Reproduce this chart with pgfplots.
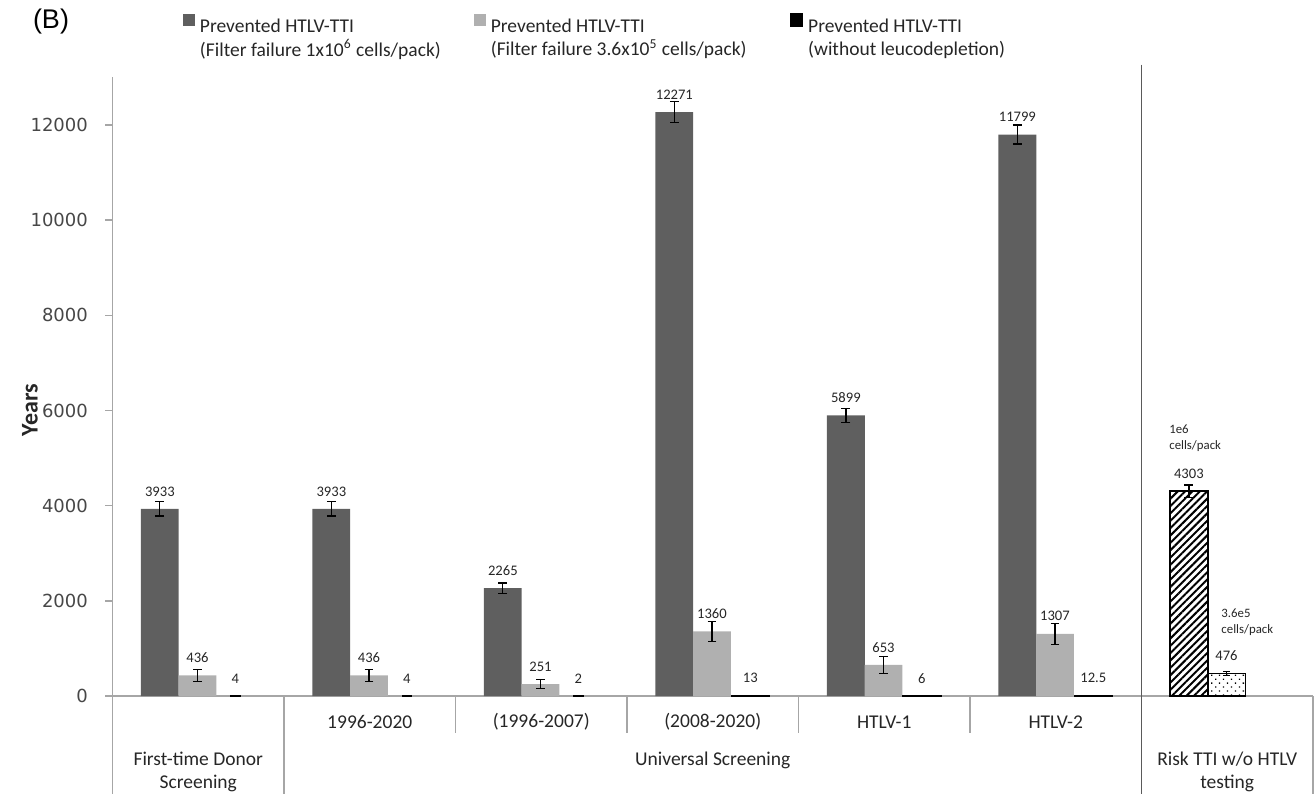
\documentclass[border=0pt]{standalone}
\usepackage{pgfplots}
\usepackage{pgfplotstable}
\pgfplotsset{compat=1.18}
\usepackage{fontspec}
\setmainfont{Carlito}
\newfontfamily\arialfont{Liberation Sans}
\newfontfamily\tickfont{DejaVu Sans}
\usetikzlibrary{patterns,patterns.meta}
\definecolor{darkbar}{HTML}{5F5F5F}
\definecolor{lightbar}{HTML}{B0B0B0}
\definecolor{axgray}{HTML}{A6A6A6}
\definecolor{sepgray}{HTML}{5A5A5A}
\definecolor{txt}{HTML}{262626}

\pgfplotstableread{
x y err
0 3933 150
1 3933 150
2 2265 110
3 12271 220
4 5899 150
5 11799 200
}\darkdata
\pgfplotstableread{
x y err
0 436 125
1 436 125
2 251 95
3 1360 210
4 653 180
5 1307 220
}\lightdata
\pgfplotstableread{
x y
0 4
1 4
2 2
}\blackA
\pgfplotstableread{
x y
3 13
4 6
5 12.5
}\blackB
\pgfplotstableread{
x y err
6 4303 130
}\hatchdata
\pgfplotstableread{
x y err
6 476 45
}\dotdata

\begin{document}
\begin{tikzpicture}
\path[use as bounding box] (-56.25pt,-49pt) rectangle (600.75pt,348pt);
\begin{axis}[
  at={(0pt,0pt)}, anchor=south west,
  scale only axis, width=600.25pt, height=309.3pt,
  xmin=-0.5, xmax=6.5, ymin=0, ymax=13000,
  enlargelimits=false, clip=false,
  axis lines=left,
  axis line style={draw=axgray, line width=0.8pt, -},
  xtick=\empty,
  ytick={0,2000,...,12000},
  scaled y ticks=false,
  tick align=outside, major tick length=3.5pt,
  ytick pos=left,
  tick style={draw=axgray, line width=0.8pt},
  /pgf/number format/1000 sep={},
  /pgf/number format/assume math mode=true,
  yticklabel style={font=\tickfont\fontsize{9}{10.5}\selectfont, text=txt!85!white, xshift=-5.3pt},
  ylabel={Years},
  every axis y label/.style={at={(axis description cs:-0.0687,0.462)}, rotate=90, anchor=center, font=\bfseries\fontsize{12}{14}\selectfont, text=txt},
  ybar,
  bar width=18.9pt,
  legend columns=3,
  legend cell align=left,
  legend style={draw=none, fill=none, at={(axis description cs:0.0587,1.104)}, anchor=north west,
    inner sep=0pt, outer sep=0pt, font=\fontsize{9.75}{11.7}\selectfont, text=txt,
    nodes={inner xsep=2.5pt, inner ysep=0pt},
    /tikz/column 2/.style={column sep=14pt},
    /tikz/column 4/.style={column sep=19pt}},
  error bars/y dir=both, error bars/y explicit,
  error bars/error bar style={black, line width=0.65pt},
  error bars/error mark options={rotate=90, black, mark size=2.2pt, line width=0.65pt},
  nodes near coords,
  every node near coord/.append style={font=\fontsize{7.3}{8}\selectfont, text=txt, anchor=center, yshift=8.75pt},
]
\addplot[fill=darkbar, draw=none, bar shift=-19.2pt,
  legend image code/.code={\fill[darkbar] (0pt,0pt) rectangle (6pt,6pt);}]
  table[x=x, y=y, y error=err] {\darkdata};
\addlegendentry{\begin{tabular}[t]{@{}l@{}}Prevented HTLV-TTI\\(Filter failure 1x10\textsuperscript{6} cells/pack)\end{tabular}}
\addplot[fill=lightbar, draw=none, bar shift=-0.4pt,
  legend image code/.code={\fill[lightbar] (0pt,0pt) rectangle (6pt,6pt);}]
  table[x=x, y=y, y error=err] {\lightdata};
\addlegendentry{\begin{tabular}[t]{@{}l@{}}Prevented HTLV-TTI\\(Filter failure 3.6x10\textsuperscript{5} cells/pack)\end{tabular}}
\addplot[fill=black, draw=black, line width=0.8pt, bar width=4.5pt, bar shift=18.6pt,
  error bars/y dir=none,
  legend image code/.code={\fill[black] (0pt,0pt) rectangle (6pt,6pt);}]
  table[x=x, y=y] {\blackA};
\addlegendentry{\begin{tabular}[t]{@{}l@{}}Prevented HTLV-TTI\\(without leucodepletion)\end{tabular}}
\addplot[fill=black, draw=black, line width=0.8pt, bar shift=18.8pt, error bars/y dir=none, forget plot]
  table[x=x, y=y] {\blackB};
\addplot[draw=black, line width=0.8pt, pattern={Lines[angle=45, distance=2.6pt, line width=1pt]}, pattern color=black,
  bar shift=-19.2pt, forget plot]
  table[x=x, y=y, y error=err] {\hatchdata};
\addplot[draw=black, line width=0.6pt, pattern={Dots[angle=45, distance=2.8pt, radius=0.45pt]}, pattern color=black,
  bar shift=-0.4pt, forget plot,
  error bars/error mark options={rotate=90, black, mark size=1.6pt, line width=0.6pt}]
  table[x=x, y=y, y error=err] {\dotdata};

% table lines below the axis
\draw[axgray, line width=0.8pt] (axis cs:-0.5,0) -- (axis cs:-0.5,-2060);
\draw[axgray, line width=0.8pt] (axis cs:0.5,0) -- (axis cs:0.5,-2060);
\pgfplotsinvokeforeach{1.5,2.5,3.5,4.5}{\draw[axgray, line width=0.8pt] (axis cs:#1,0) -- (axis cs:#1,-777);}
\draw[sepgray, line width=0.9pt] (axis cs:5.5,13270) -- (axis cs:5.5,-2060);
\draw[axgray, line width=0.8pt] (axis cs:6.5,0) -- (axis cs:6.5,-2060);

% category labels
\begin{scope}[every node/.style={font=\fontsize{9.75}{11.5}\selectfont, text=txt, align=center}]
\node at (axis cs:1,-546) {1996-2020};
\node at (axis cs:2,-546) {(1996-2007)};
\node at (axis cs:3,-546) {(2008-2020)};
\node at (axis cs:4,-546) {HTLV-1};
\node at (axis cs:5,-546) {HTLV-2};
\node at (axis cs:0,-1587) {First-time Donor\\Screening};
\node at (axis cs:3,-1345) {Universal Screening};
\node at (axis cs:6,-1587) {Risk TTI w/o HTLV\\testing};
\end{scope}

% annotations for the right-hand bars
\node[anchor=west, align=left, inner sep=0pt, font=\fontsize{6.4}{8}\selectfont, text=txt] at (axis cs:5.66,5420) {1e6\\cells/pack};
\node[anchor=west, align=left, inner sep=0pt, font=\fontsize{6.4}{8}\selectfont, text=txt] at (axis cs:5.964,1545) {3.6e5\\cells/pack};
\end{axis}
\node[font=\arialfont\fontsize{13.5}{15}\selectfont, text=black] at (-30.75pt,337pt) {(B)};
\end{tikzpicture}
\end{document}
